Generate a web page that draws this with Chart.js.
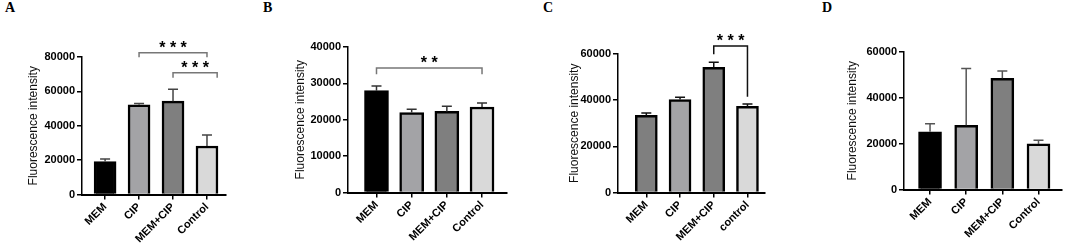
<!DOCTYPE html>
<html>
<head>
<meta charset="utf-8">
<script src="https://cdn.jsdelivr.net/npm/chart.js@4.4.1/dist/chart.umd.min.js"></script>
<style>
  body { margin: 0; background: #fff; width: 1065px; height: 246px; overflow: hidden; position: relative; }
  canvas { position: absolute; top: 0; }
  .tag { position: absolute; top: 0px; font: bold 14px "Liberation Serif", "Times New Roman", serif; color: #000; }
</style>
</head>
<body>
<div class="tag" style="left:5px">A</div>
<div class="tag" style="left:263px">B</div>
<div class="tag" style="left:543px">C</div>
<div class="tag" style="left:822px">D</div>
<canvas id="chartA" width="265" height="246" style="left:0px"></canvas>
<canvas id="chartB" width="265" height="246" style="left:265px"></canvas>
<canvas id="chartC" width="265" height="246" style="left:530px"></canvas>
<canvas id="chartD" width="270" height="246" style="left:795px"></canvas>
<script>
// data
const groupsA = ["MEM", "CIP", "MEM+CIP", "Control"];
const groupsC = ["MEM", "CIP", "MEM+CIP", "control"];

const meanA = [19200, 52200, 54300, 28200];
const errA = [1500, 800, 7000, 6400];
const meanB = [28000, 22000, 22300, 23500];
const errB = [1300, 900, 1400, 1100];
const meanC = [33400, 40300, 54200, 37300];
const errC = [1000, 1000, 2200, 1000];
const meanD = [25200, 28000, 48500, 19900];
const errD = [3500, 24800, 3200, 1600];

const yTicksA = [0, 20000, 40000, 60000, 80000];
const yTicksB = [0, 10000, 20000, 30000, 40000];
const yTicksC = [0, 20000, 40000, 60000];
const yTicksD = [0, 20000, 40000, 60000];

// significance brackets: from/to group index, top value, drop ends, stars
const sigA = [
    { from: 1, to: 3, top: 82500, left: 79800, right: 79800, stars: "* * *" },
    { from: 2, to: 3.3, top: 70900, left: 68000, right: 68000, stars: "* * *" }
];
const sigB = [
    { from: 0, to: 3, top: 34200, left: 32500, right: 32500, stars: "* *" }
];
const sigC = [
    { from: 2, to: 3, top: 63500, left: 59900, right: 41500, stars: "* * *" }
];

const fills = {
    A: ['#000000', '#a3a3a6', '#7f7f7f', '#d9d9d9'],
    B: ['#000000', '#a3a3a6', '#7f7f7f', '#d9d9d9'],
    C: ['#7f7f7f', '#a3a3a6', '#7f7f7f', '#d9d9d9'],
    D: ['#000000', '#a3a3a6', '#7f7f7f', '#d9d9d9']
};

const FONT = '"Liberation Sans", Arial, sans-serif';

// error bars (upper only) and significance brackets
const annotate = {
    id: 'annotate',
    afterDatasetsDraw(chart, args, o) {
        const { ctx, scales: { x, y } } = chart;
        ctx.save();
        ctx.lineWidth = 1.5;
        ctx.strokeStyle = o.errColor;
        o.means.forEach((m, i) => {
            const px = x.getPixelForValue(i);
            const y0 = y.getPixelForValue(m);
            const y1 = y.getPixelForValue(m + o.errors[i]);
            ctx.beginPath();
            ctx.moveTo(px, y0);
            ctx.lineTo(px, y1);
            ctx.moveTo(px - 5, y1);
            ctx.lineTo(px + 5, y1);
            ctx.stroke();
        });
        ctx.strokeStyle = o.sigColor;
        ctx.fillStyle = '#000';
        ctx.font = 'bold 16px ' + FONT;
        ctx.textAlign = 'center';
        ctx.textBaseline = 'alphabetic';
        o.sig.forEach(s => {
            const xl = x.getPixelForValue(s.from), xr = x.getPixelForValue(s.to);
            const yt = y.getPixelForValue(s.top);
            ctx.beginPath();
            ctx.moveTo(xl, y.getPixelForValue(s.left));
            ctx.lineTo(xl, yt);
            ctx.lineTo(xr, yt);
            ctx.lineTo(xr, y.getPixelForValue(s.right));
            ctx.stroke();
            ctx.fillText(s.stars, (xl + xr) / 2, yt);
        });
        ctx.restore();
    }
};

function panel(id, cfg) {
    const ctx = document.getElementById(id).getContext('2d');
    return new Chart(ctx, {
        type: 'bar',
        data: {
            datasets: [{
                data: cfg.means.map((m, i) => ({ x: i, y: m })),
                backgroundColor: cfg.fills,
                borderColor: '#000',
                borderWidth: 2.5,
                borderSkipped: 'bottom',
                barThickness: cfg.barW
            }]
        },
        options: {
            responsive: false,
            animation: false,
            events: [],
            layout: { padding: cfg.pad },
            plugins: {
                legend: { display: false },
                tooltip: { enabled: false },
                annotate: {
                    means: cfg.means, errors: cfg.errors, sig: cfg.sig,
                    errColor: cfg.errColor, sigColor: cfg.sigColor
                }
            },
            scales: {
                x: {
                    type: 'linear',
                    offset: false,
                    min: cfg.xRange[0],
                    max: cfg.xRange[1],
                    afterFit: s => { s.height = cfg.xH; },
                    afterBuildTicks: s => { s.ticks = cfg.labels.map((l, i) => ({ value: i })); },
                    ticks: {
                        autoSkip: false,
                        minRotation: 45,
                        maxRotation: 45,
                        padding: 1,
                        color: '#000',
                        font: { family: FONT, size: 11, weight: 'bold' },
                        callback: v => cfg.labels[v]
                    },
                    grid: { offset: false, drawOnChartArea: false, drawTicks: true, tickLength: 5, color: '#000', lineWidth: 1.5 },
                    border: { color: '#000', width: 2 }
                },
                y: {
                    min: 0,
                    max: cfg.yTicks[cfg.yTicks.length - 1],
                    afterFit: s => { s.width = cfg.yW; },
                    afterBuildTicks: s => { s.ticks = cfg.yTicks.map(v => ({ value: v })); },
                    ticks: {
                        padding: 2,
                        color: '#000',
                        font: { family: FONT, size: 11, weight: 'bold' },
                        callback: v => String(v)
                    },
                    grid: { drawOnChartArea: false, drawTicks: true, tickLength: 5, color: '#000', lineWidth: 1.5 },
                    border: { color: '#000', width: 1.5 },
                    title: {
                        display: true,
                        text: 'Fluorescence intensity',
                        color: '#111',
                        padding: { top: 4, bottom: 4 },
                        font: { family: FONT, size: 12 }
                    }
                }
            }
        },
        plugins: [annotate]
    });
}

panel('chartA', {
    labels: groupsA, means: meanA, errors: errA, sig: sigA, yTicks: yTicksA, fills: fills.A,
    errColor: '#444', sigColor: '#777', barW: 22, xRange: [-0.68, 3.56],
    pad: { left: 22, top: 57, right: 39, bottom: 0 }, yW: 60, xH: 51.5
});
panel('chartB', {
    labels: groupsA, means: meanB, errors: errB, sig: sigB, yTicks: yTicksB, fills: fills.B,
    errColor: '#333', sigColor: '#777', barW: 24, xRange: [-0.81, 3.71],
    pad: { left: 24, top: 47, right: 23, bottom: 0 }, yW: 59, xH: 53.5
});
panel('chartC', {
    labels: groupsC, means: meanC, errors: errC, sig: sigC, yTicks: yTicksC, fills: fills.C,
    errColor: '#111', sigColor: '#111', barW: 22, xRange: [-0.84, 3.52],
    pad: { left: 33, top: 54, right: 30, bottom: 0 }, yW: 55, xH: 53.5
});
panel('chartD', {
    labels: groupsA, means: meanD, errors: errD, sig: [], yTicks: yTicksD, fills: fills.D,
    errColor: '#555', sigColor: '#777', barW: 23, xRange: [-0.72, 3.65],
    pad: { left: 46, top: 52, right: 3, bottom: 0 }, yW: 63, xH: 56.5
});
</script>
</body>
</html>
